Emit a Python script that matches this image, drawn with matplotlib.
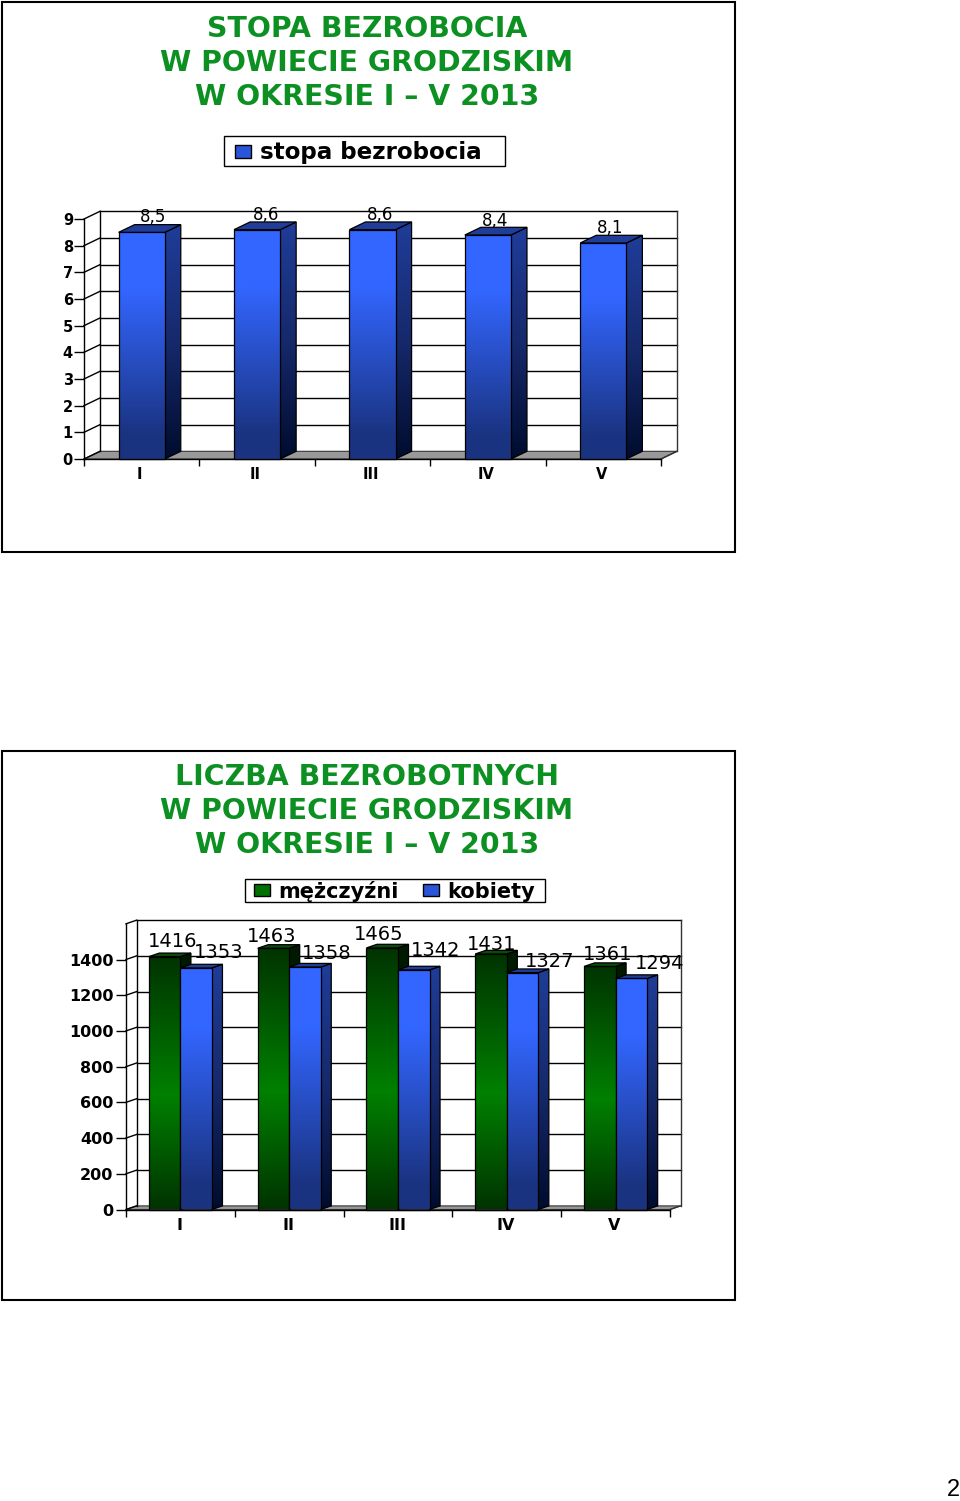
import numpy as np
import matplotlib
matplotlib.use("Agg")
import matplotlib.pyplot as plt
from matplotlib.colors import LinearSegmentedColormap
from matplotlib.patches import Polygon, Rectangle, Patch
from matplotlib.lines import Line2D
from matplotlib.transforms import Affine2D

months = ["I", "II", "III", "IV", "V"]
rate = [8.5, 8.6, 8.6, 8.4, 8.1]
rate_labels = ["8,5", "8,6", "8,6", "8,4", "8,1"]
men = [1416, 1463, 1465, 1431, 1361]
women = [1353, 1358, 1342, 1327, 1294]
rate_ticks = list(range(0, 10))
count_ticks = list(range(0, 1401, 200))
title_1 = ["STOPA BEZROBOCIA", "W POWIECIE GRODZISKIM", "W OKRESIE I – V 2013"]
title_2 = ["LICZBA BEZROBOTNYCH", "W POWIECIE GRODZISKIM", "W OKRESIE I – V 2013"]

W, H = 960, 1501
fig = plt.figure(figsize=(W / 100, H / 100), dpi=100, facecolor="white")
FONT = "DejaVu Sans"
TITLE_FONT = "DejaVu Sans"
GREEN_T = "#0c9022"

blue_front = LinearSegmentedColormap.from_list(
    "bf", [(0, "#3366ff"), (0.25, "#3366ff"), (0.9, "#1a3380"), (1, "#1a3380")])
blue_side = LinearSegmentedColormap.from_list("bs", [(0, "#1f3d99"), (0.5, "#16296b"), (1, "#000c2e")])
green_front = LinearSegmentedColormap.from_list(
    "gf", [(0, "#003300"), (0.55, "#008000"), (1, "#003300")])
green_side = LinearSegmentedColormap.from_list("gs", ["#001a00", "#001a00", "#000d00"])
BLUE_TOP, GREEN_TOP = "#1f3d99", "#0a4a0a"
_z = [3.0]


def next_z():
    _z[0] += 0.01
    return _z[0]


def fx(x):
    return x / W


def fy(y):
    return 1 - y / H


def frame(x0, y0, x1, y1, lw=1.5):
    fig.add_artist(Rectangle((fx(x0), fy(y1)), fx(x1 - x0), (y1 - y0) / H, fill=False,
                             ec="black", lw=lw, transform=fig.transFigure))


def titles(lines, ys, size):
    for s, y in zip(lines, ys):
        fig.text(fx(367), fy(y), s, color=GREEN_T, fontsize=size, fontweight="bold",
                 family=TITLE_FONT, ha="center", va="center")


def gradient(ax, verts, cmap, top, bottom):
    xs = [v[0] for v in verts]
    z = next_z()
    poly = Polygon(verts, closed=True, fill=False, ec="none", transform=ax.transData)
    ax.add_patch(poly)
    grad = np.linspace(0, 1, 256).reshape(-1, 1)
    im = ax.imshow(grad, extent=(min(xs), max(xs), bottom, top), cmap=cmap, aspect="auto",
                   origin="upper", vmin=0, vmax=1, zorder=z)
    im.set_clip_path(poly)
    edge = Polygon(verts, closed=True, fill=False, ec="black", lw=0.9, zorder=z + 0.001,
                   clip_on=False, transform=ax.transData)
    ax.add_patch(edge)


def bar3d(ax, left, width, value, ddx, ddy, front, side, topc):
    r = left + width
    gradient(ax, [(r, 0), (r + ddx, ddy), (r + ddx, value + ddy), (r, value)], side, value + ddy, 0)
    gradient(ax, [(left, 0), (r, 0), (r, value), (left, value)], front, value, 0)
    ax.add_patch(Polygon([(left, value), (r, value), (r + ddx, value + ddy), (left + ddx, value + ddy)],
                         closed=True, fc=topc, ec="black", lw=0.9, zorder=next_z(), clip_on=False))


def make_axes(x0, x1, ytop, y0, ymax, ticks, dpx, dpy, fs, xpad, ypad, xshift):
    ax = fig.add_axes([fx(x0), fy(y0), (x1 - x0) / W, (y0 - ytop) / H])
    ax.patch.set_visible(False)
    ax.set_xlim(0, 5)
    ax.set_ylim(0, ymax)
    ddx = dpx * 5 / (x1 - x0)
    ddy = dpy * ymax / (y0 - ytop)
    for s in ("top", "right"):
        ax.spines[s].set_visible(False)
    for s in ("left", "bottom"):
        ax.spines[s].set_linewidth(1.0)
    ax.set_yticks(ticks)
    ax.set_yticklabels([str(t) for t in ticks], fontsize=fs, family=FONT, fontweight="bold")
    ax.tick_params(axis="y", length=7, width=1, pad=ypad)
    ax.set_xticks(np.arange(5) + 0.5)
    ax.set_xticklabels(months, fontsize=fs, family=FONT, fontweight="bold")
    ax.set_xticks(np.arange(6), minor=True)
    ax.tick_params(axis="x", which="major", length=0, pad=xpad)
    ax.tick_params(axis="x", which="minor", length=5, width=1)
    for lab in ax.get_xticklabels():
        lab.set_transform(lab.get_transform() + Affine2D().translate(xshift, 0))
    back = ax.transData + Affine2D().translate(dpx, dpy)
    ax.add_patch(Polygon([(0, 0), (5, 0), (5 + ddx, ddy), (ddx, ddy)], closed=True,
                         fc="#999999", ec="#333333", lw=0.8, zorder=1, clip_on=False))
    levels = list(np.arange(0, ymax + 1e-9, ticks[1] - ticks[0]))
    for lev in levels:
        if lev > 0:
            ax.add_line(Line2D([0, 5], [lev, lev], color="black", lw=1, transform=back, zorder=1, clip_on=False))
        ax.add_line(Line2D([0, ddx], [lev, lev + ddy], color="black", lw=1, zorder=1, clip_on=False))
    ax.add_line(Line2D([0, 0], [0, ymax], color="black", lw=1, transform=back, zorder=1, clip_on=False))
    ax.add_line(Line2D([5, 5], [0, ymax], color="#333333", lw=1, transform=back, zorder=1, clip_on=False))
    ax.add_line(Line2D([5, 5 + ddx], [0, ddy], color="#333333", lw=1, zorder=1, clip_on=False))
    return ax, ddx, ddy


def legend(handles, labels, hx, cy, fs, ncol, hl, hh, tp, cs=1.0):
    return fig.legend(handles, labels, loc="center left", bbox_to_anchor=(fx(hx), fy(cy)),
                      bbox_transform=fig.transFigure, ncol=ncol, frameon=False, borderpad=0,
                      borderaxespad=0, handlelength=hl, handleheight=hh,
                      handletextpad=tp, columnspacing=cs,
                      prop={"family": FONT, "size": fs, "weight": "bold"})


# ---- upper chart
frame(2, 2, 735, 552)
titles(title_1, [29, 63, 97], 20.4)
ax1, dx1, dy1 = make_axes(84, 661, 219, 459, 9, rate_ticks, 16, 7.7, 10.5, 6, 1, -2)
w1 = 0.4
for i, v in enumerate(rate):
    bar3d(ax1, i + 0.5 - w1 / 2, w1, v, dx1, dy1, blue_front, blue_side, BLUE_TOP)
label_shift_1 = [(11, 15), (9, 15), (8, 15), (7, 14), (7, 15)]
for i, (v, s) in enumerate(zip(rate, rate_labels)):
    ax1.annotate(s, (i + 0.5, v), xytext=label_shift_1[i], textcoords="offset pixels",
                 ha="center", va="center", fontsize=12, family=FONT, zorder=6, annotation_clip=False)
frame(224, 136, 505, 166, lw=1.0)
legend([Patch(fc="#2a55d8", ec="black")], ["stopa bezrobocia"], 235, 153, 16.6, 1, 0.7, 0.5, 0.39)

# ---- lower chart
frame(2, 751, 735, 1300)
titles(title_2, [777, 811, 845], 20.4)
ax2, dx2, dy2 = make_axes(126, 670, 923.8, 1209.5, 1600, count_ticks, 10.5, 3.6, 11.5, 6, 2, -1)
w2 = 0.29
for i, (m, k) in enumerate(zip(men, women)):
    bar3d(ax2, i + 0.5 - w2, w2, m, dx2, dy2, green_front, green_side, GREEN_TOP)
    bar3d(ax2, i + 0.5, w2, k, dx2, dy2, blue_front, blue_side, BLUE_TOP)
men_shift = [(8, 15), (-2, 12), (-4, 13), (1, 9), (8, 12)]
women_shift = [(23, 15), (22, 14), (22, 19), (27, 11), (28, 15)]
for i, (m, k) in enumerate(zip(men, women)):
    ax2.annotate(str(m), (i + 0.5 - w2 / 2, m), xytext=men_shift[i], textcoords="offset pixels",
                 ha="center", va="center", fontsize=14, family=FONT, zorder=6, annotation_clip=False)
    ax2.annotate(str(k), (i + 0.5 + w2 / 2, k), xytext=women_shift[i], textcoords="offset pixels",
                 ha="center", va="center", fontsize=14, family=FONT, zorder=6, annotation_clip=False)
frame(245, 879, 545, 902, lw=1.0)
legend([Patch(fc="#007000", ec="black"), Patch(fc="#2a55d8", ec="black")],
       ["mężczyźni", "kobiety"], 254, 891, 15, 2, 0.77, 0.5, 0.38, 1.2)

fig.text(fx(953), fy(1490), "2", fontsize=17, family="Liberation Sans", ha="center", va="center")

fig.savefig("out.png", dpi=100)
